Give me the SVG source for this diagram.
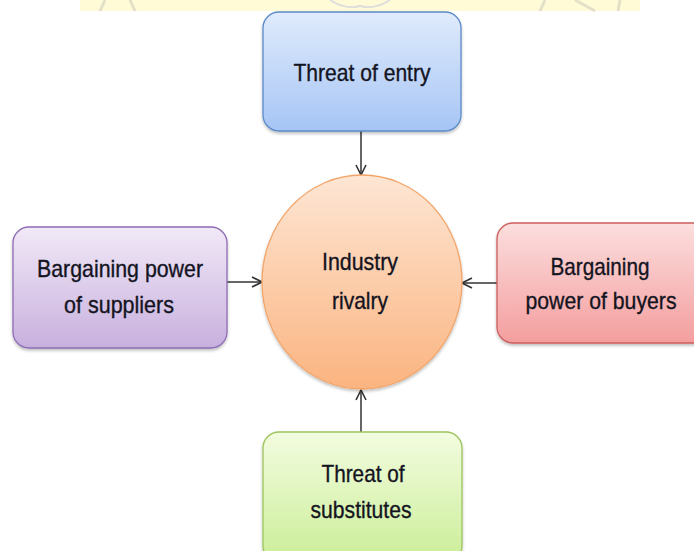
<svg xmlns="http://www.w3.org/2000/svg" width="694" height="551" viewBox="0 0 694 551">
<defs>
<linearGradient id="gBlue" x1="0" y1="0" x2="0" y2="1"><stop offset="0" stop-color="#e0ebfc"/><stop offset="1" stop-color="#a6c5f5"/></linearGradient>
<linearGradient id="gOrange" x1="0" y1="0" x2="0" y2="1"><stop offset="0" stop-color="#fde6d4"/><stop offset="1" stop-color="#fbb480"/></linearGradient>
<linearGradient id="gPurple" x1="0" y1="0" x2="0" y2="1"><stop offset="0" stop-color="#f1e9f7"/><stop offset="1" stop-color="#c8b0de"/></linearGradient>
<linearGradient id="gRed" x1="0" y1="0" x2="0" y2="1"><stop offset="0" stop-color="#fcdede"/><stop offset="1" stop-color="#f49e9e"/></linearGradient>
<linearGradient id="gGreen" x1="0" y1="0" x2="0" y2="1"><stop offset="0" stop-color="#f3fce0"/><stop offset="1" stop-color="#cbee98"/></linearGradient>
<filter id="sh" x="-10%" y="-10%" width="120%" height="130%"><feDropShadow dx="0" dy="2" stdDeviation="1.5" flood-color="#000" flood-opacity="0.25"/></filter>
<marker id="arr" viewBox="0 0 12 12" refX="11" refY="6" markerWidth="12" markerHeight="12" markerUnits="userSpaceOnUse" orient="auto"><path d="M1,1 L11,6 L1,11" fill="none" stroke="#333" stroke-width="1.6"/></marker>
</defs>
<style>
text{font-family:"Liberation Sans",Arial,sans-serif;font-size:24px;fill:#14141f;stroke:#14141f;stroke-width:0.35;text-anchor:middle;}
.conn line{stroke:#333;stroke-width:1.5;}
</style>
<rect x="0" y="0" width="694" height="551" fill="#fff"/>
<g id="watermark">
<rect x="80" y="0" width="560" height="11" fill="#fffbd6"/>
<path d="M330,0 Q345,10 360,6 Q375,10 390,0" fill="none" stroke="#ddd" stroke-width="2"/>
<path d="M105,0 L100,11 M130,0 L135,11 M545,0 L540,11 M575,0 L595,11 M620,0 L618,11" fill="none" stroke="#e3e0c8" stroke-width="3"/>
</g>
<g class="conn" id="connectors">
<line x1="361" y1="131" x2="361" y2="175" marker-end="url(#arr)"/>
<line x1="227" y1="282" x2="262" y2="282" marker-end="url(#arr)"/>
<line x1="497" y1="283" x2="462" y2="283" marker-end="url(#arr)"/>
<line x1="361" y1="432" x2="361" y2="390" marker-end="url(#arr)"/>
</g>
<g id="threat-entry">
<rect x="263" y="12" width="198" height="119" rx="16" fill="url(#gBlue)" stroke="#5b8bc8" stroke-width="1.3" filter="url(#sh)"/>
<text x="362" y="81" textLength="137" lengthAdjust="spacingAndGlyphs">Threat of entry</text>
</g>
<g id="rivalry">
<ellipse cx="362" cy="282" rx="100" ry="107" fill="url(#gOrange)" stroke="#f2a468" stroke-width="1.3" filter="url(#sh)"/>
<text x="360" y="270" textLength="76" lengthAdjust="spacingAndGlyphs">Industry</text>
<text x="360" y="309" textLength="56" lengthAdjust="spacingAndGlyphs">rivalry</text>
</g>
<g id="suppliers">
<rect x="13" y="227" width="214" height="121" rx="16" fill="url(#gPurple)" stroke="#8e6db3" stroke-width="1.3" filter="url(#sh)"/>
<text x="120" y="277" textLength="166" lengthAdjust="spacingAndGlyphs">Bargaining power</text>
<text x="119" y="313" textLength="110" lengthAdjust="spacingAndGlyphs">of suppliers</text>
</g>
<g id="buyers">
<rect x="497" y="223" width="215" height="120" rx="16" fill="url(#gRed)" stroke="#cd5e5e" stroke-width="1.3" filter="url(#sh)"/>
<text x="600" y="275" textLength="99" lengthAdjust="spacingAndGlyphs">Bargaining</text>
<text x="601" y="309" textLength="151" lengthAdjust="spacingAndGlyphs">power of buyers</text>
</g>
<g id="substitutes">
<rect x="263" y="432" width="199" height="130" rx="16" fill="url(#gGreen)" stroke="#9dc55c" stroke-width="1.3" filter="url(#sh)"/>
<text x="363" y="482" textLength="83" lengthAdjust="spacingAndGlyphs">Threat of</text>
<text x="361" y="518" textLength="101" lengthAdjust="spacingAndGlyphs">substitutes</text>
</g>
</svg>
